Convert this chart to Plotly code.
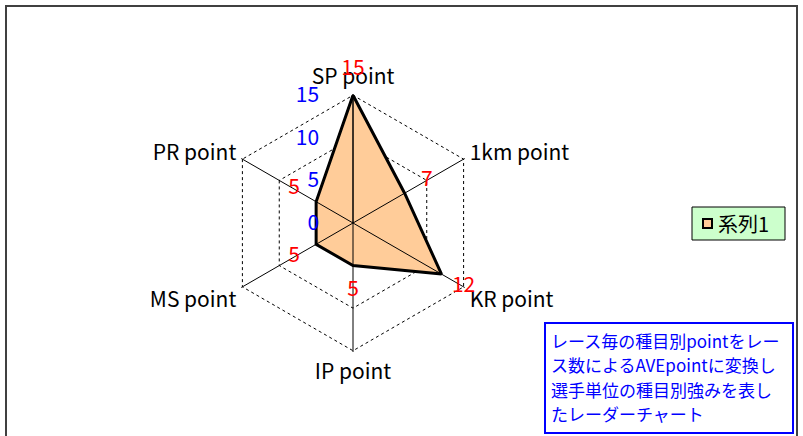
import plotly.graph_objects as go

categories = ["SP point", "1km point", "KR point", "IP point", "MS point", "PR point"]
values = [15, 7, 12, 5, 5, 5]
radial_ticks = [0, 5, 10, 15]
series_name = "系列1"
note_lines = [
    "レース毎の種目別pointをレー",
    "ス数によるAVEpointに変換し",
    "選手単位の種目別強みを表し",
    "たレーダーチャート",
]

W, H = 803, 436
font_family = "Noto Sans CJK JP, Noto Sans, sans-serif"
fill_color = "#FFCC99"

# close the polygon
theta_closed = categories + categories[:1]
r_closed = values + values[:1]

fig = go.Figure()
fig.add_trace(
    go.Scatterpolar(
        r=r_closed,
        theta=theta_closed,
        mode="lines",
        fill="toself",
        fillcolor=fill_color,
        line=dict(color="black", width=3),
        name=series_name,
        showlegend=False,
        subplot="polar",
    )
)

# invisible points so the axis subplot (spokes, names, ticks) gets drawn
fig.add_trace(
    go.Scatterpolar(
        r=values,
        theta=categories,
        mode="markers",
        marker=dict(opacity=0),
        showlegend=False,
        hoverinfo="skip",
        subplot="polar2",
    )
)

# data labels sit a little outside each vertex; they go on a larger,
# invisible polar with the same scale so nothing past the range is dropped
label_offset = 3.0
fig.add_trace(
    go.Scatterpolar(
        r=[v + label_offset for v in values],
        theta=categories,
        mode="text",
        text=[str(v) for v in values],
        textfont=dict(color="red", size=21, family=font_family),
        cliponaxis=False,
        showlegend=False,
        hoverinfo="skip",
        subplot="polar3",
    )
)

cx, cy, rad = 353, 223, 129
r_max = radial_ticks[-1] * 1.01
r_range = [0, r_max]
k = 1.4  # scale factor of the label subplot


def make_domain(radius):
    return dict(
        x=[(cx - radius) / W, (cx + radius) / W],
        y=[1 - (cy + radius) / H, 1 - (cy - radius) / H],
    )


angular_common = dict(
    categoryorder="array",
    categoryarray=categories,
    rotation=90,
    direction="clockwise",
    showline=False,
)


def px(x, y):
    return x / W, 1 - y / H


# legend box drawn by hand so the key sits tight to the text
lg_x0, lg_y0 = px(692, 207)
lg_x1, lg_y1 = px(785, 240)
mk_x0, mk_y0 = px(703, 219)
mk_x1, mk_y1 = px(712, 228)
nb_x0, nb_y0 = px(545, 323)
nb_x1, nb_y1 = px(793, 433)

fig.update_layout(
    width=W,
    height=H,
    margin=dict(l=0, r=0, t=0, b=0),
    paper_bgcolor="white",
    plot_bgcolor="white",
    font=dict(family=font_family, color="black", size=21),
    showlegend=False,
    # bottom subplot: dotted rings, hidden beneath the fill
    polar=dict(
        domain=make_domain(rad),
        bgcolor="white",
        gridshape="linear",
        angularaxis=dict(**angular_common, ticks="", showgrid=False,
                         showticklabels=False),
        radialaxis=dict(
            range=r_range,
            tickvals=radial_ticks,
            showline=False,
            showticklabels=False,
            ticks="",
            gridcolor="black",
            griddash="dot",
            gridwidth=1,
        ),
    ),
    # middle subplot: spokes, category names and value axis over the fill
    polar2=dict(
        domain=make_domain(rad),
        bgcolor="rgba(0,0,0,0)",
        gridshape="linear",
        angularaxis=dict(
            **angular_common,
            showgrid=True,
            gridcolor="black",
            gridwidth=1,
            ticks="outside",
            ticklen=1,
            tickcolor="rgba(0,0,0,0)",
            tickfont=dict(size=21, color="black"),
        ),
        radialaxis=dict(
            range=r_range,
            tickvals=radial_ticks,
            angle=90,
            side="counterclockwise",
            showgrid=False,
            showline=True,
            linecolor="black",
            linewidth=1,
            ticks="outside",
            ticklen=26,
            tickcolor="rgba(0,0,0,0)",
            tickangle=90,
            tickfont=dict(size=21, color="blue"),
        ),
    ),
    # top subplot: only carries the red value labels
    polar3=dict(
        domain=make_domain(rad * k),
        bgcolor="rgba(0,0,0,0)",
        gridshape="linear",
        angularaxis=dict(**angular_common, visible=False),
        radialaxis=dict(range=[0, r_max * k], visible=False),
    ),
    shapes=[
        dict(
            type="rect", xref="paper", yref="paper",
            x0=6 / W, x1=797 / W, y0=-0.1, y1=1 - 6 / H,
            line=dict(color="#404040", width=2),
            layer="below",
        ),
        dict(
            type="rect", xref="paper", yref="paper",
            x0=lg_x0, x1=lg_x1, y0=lg_y1, y1=lg_y0,
            line=dict(color="black", width=1),
            fillcolor="#CCFFCC",
            layer="above",
        ),
        dict(
            type="rect", xref="paper", yref="paper",
            x0=mk_x0, x1=mk_x1, y0=mk_y1, y1=mk_y0,
            line=dict(color="black", width=2),
            fillcolor=fill_color,
            layer="above",
        ),
        dict(
            type="rect", xref="paper", yref="paper",
            x0=nb_x0, x1=nb_x1, y0=nb_y1, y1=nb_y0,
            line=dict(color="blue", width=2),
            fillcolor="white",
            layer="above",
        ),
    ],
    annotations=[
        dict(
            x=716 / W,
            y=1 - 223.5 / H,
            xref="paper",
            yref="paper",
            xanchor="left",
            yanchor="middle",
            text=series_name,
            showarrow=False,
            font=dict(size=20, color="black"),
        )
    ]
    + [
        dict(
            x=549 / W,
            y=1 - (340 + 24.5 * i) / H,
            xref="paper",
            yref="paper",
            xanchor="left",
            yanchor="middle",
            text=line,
            showarrow=False,
            font=dict(size=17, color="blue"),
        )
        for i, line in enumerate(note_lines)
    ],
)

fig.write_html(
    "out.html",
    config={"displayModeBar": False},
    post_script="document.body.style.margin='0';",
)
